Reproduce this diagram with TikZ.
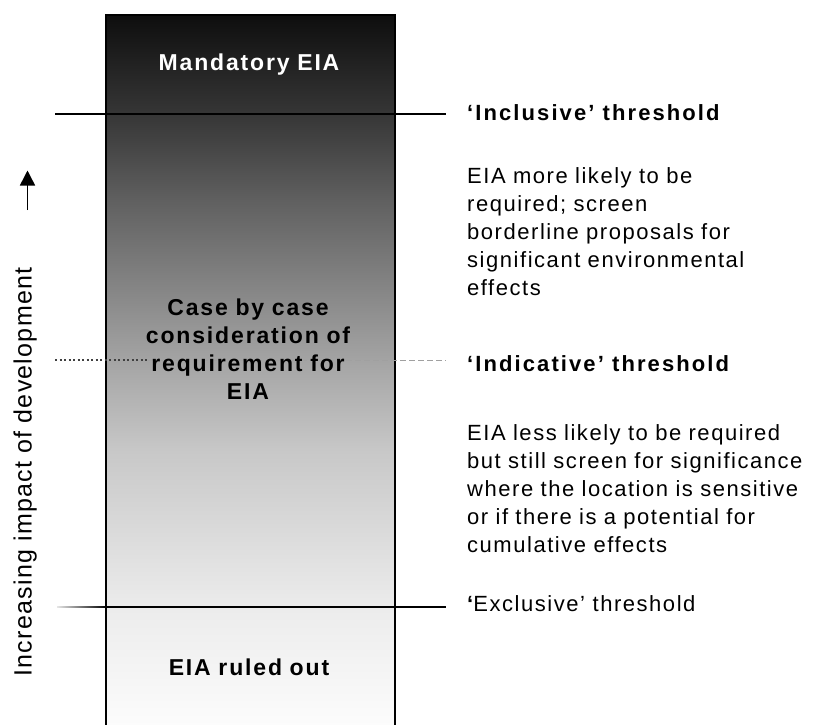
\documentclass[tikz,border=0pt]{standalone}
\usepackage{fontspec}
\setmainfont{Liberation Sans}
\newfontfamily\bodyfont{Liberation Sans}[LetterSpace=7]
\newfontfamily\headfont{Liberation Sans}[LetterSpace=9.5]
\newfontfamily\boxfont{Liberation Sans}[LetterSpace=8]
\newfontfamily\axisfont{Liberation Sans}[LetterSpace=5]
\usetikzlibrary{arrows.meta}
\definecolor{sA}{HTML}{0E0E0E}
\definecolor{sB}{HTML}{363636}
\definecolor{sC}{HTML}{606060}
\definecolor{sD}{HTML}{A4A4A4}
\definecolor{sE}{HTML}{C8C8C8}
\definecolor{sF}{HTML}{ECECEC}
\definecolor{sG}{HTML}{FCFCFC}
\definecolor{dotgray}{HTML}{404040}
\definecolor{dashgray}{HTML}{A0A0A0}
\pgfdeclareverticalshading{eiashade}{100bp}{color(0bp)=(sG); color(25bp)=(sG); color(33.25bp)=(sF); color(44.3bp)=(sE); color(50.67bp)=(sD); color(61.95bp)=(sC); color(68bp)=(sB); color(75bp)=(sA); color(100bp)=(sA)}
\tikzset{
  boxlabel/.style={font=\boxfont\bfseries\fontsize{23}{28}\selectfont, inner sep=0pt, align=center, text width=260pt},
  headlabel/.style={font=\headfont\bfseries\fontsize{22}{28}\selectfont, inner sep=0pt, anchor=base west},
  bodytext/.style={font=\bodyfont\fontsize{22}{28}\selectfont, inner sep=0pt, anchor=base west, align=left, text width=360pt},
  thick threshold/.style={line width=2pt, draw=black},
  boxline/.style={line width=2pt, draw=black}
}
\begin{document}
\begin{tikzpicture}[x=1pt,y=-1pt]
\useasboundingbox (0,0) rectangle (822,724);
% shaded box
\shade[shading=eiashade] (106,15) rectangle (395,726);
\coordinate (bl) at (106,726);
\coordinate (tl) at (106,15);
\coordinate (tr) at (395,15);
\coordinate (br) at (395,726);
\draw[boxline] (bl) -- (tl) -- (tr) -- (br);
% thresholds
\coordinate (incL) at (55,114);
\coordinate (incR) at (446,114);
\draw[thick threshold] (incL) -- (incR);
\coordinate (indL) at (55,360);
\coordinate (indM) at (148,360);
\coordinate (indR) at (446,360);
\draw[dotgray, line width=1.3pt, dash pattern=on 2pt off 2.5pt] (indL) -- (indM);
\draw[dashgray, line width=0.9pt, dash pattern=on 6pt off 3pt] (indM) -- (indR);
\coordinate (excL) at (57,607);
\coordinate (excM) at (106,607);
\coordinate (excR) at (446,607);
\shade[left color=white!90!black, right color=black] (57,606.2) rectangle (106,607.8);
\draw[line width=1.6pt] (excM) -- (excR);
% axis arrow and label
\coordinate (arrS) at (27.5,210);
\coordinate (arrE) at (27.5,170.5);
\draw[line width=1.5pt, -{Triangle[length=15pt,width=15pt]}] (arrS) -- (arrE);
\node[font=\axisfont\fontsize{25}{30}\selectfont, rotate=90, anchor=base, inner sep=0pt] (axis) at (31.7,472) {Increasing impact of development};
% box labels
\node[boxlabel, text=white, anchor=base] (mand) at (249,70.7) {Mandatory EIA};
\node[boxlabel, anchor=base] (case) at (248,315) {Case by case\\consideration of\\requirement for\\EIA};
\node[boxlabel, anchor=base] (ruled) at (249,675) {EIA ruled out};
% right texts
\node[headlabel] (inch) at (467,120.7) {‘Inclusive’ threshold};
\node[bodytext] (incb) at (467,183.5) {EIA more likely to be\\required; screen\\borderline proposals for\\significant environmental\\effects};
\node[headlabel] (indh) at (467,371) {‘Indicative’ threshold};
\node[bodytext] (indb) at (467,440) {EIA less likely to be required\\but still screen for significance\\where the location is sensitive\\or if there is a potential for\\cumulative effects};
\node[font=\bodyfont\fontsize{22}{28}\selectfont, inner sep=0pt, anchor=base west] (exch) at (467,611.7) {{\bfseries ‘}Exclusive’ threshold};
\end{tikzpicture}
\end{document}
